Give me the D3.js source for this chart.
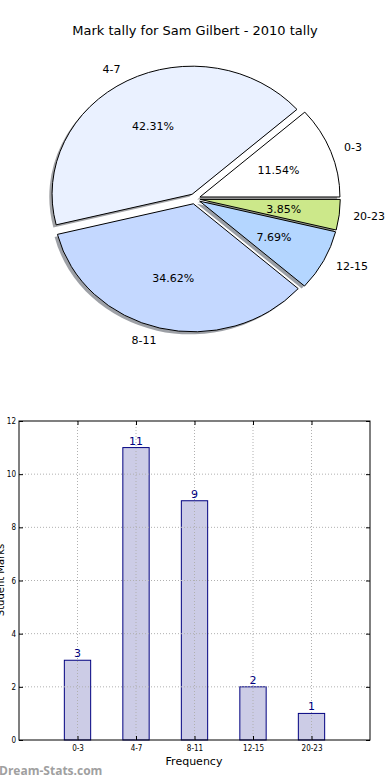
<!DOCTYPE html>
<html lang="en">
<head>
<meta charset="utf-8">
<script src="https://d3js.org/d3.v7.min.js"></script>
<style>
  body { margin: 0; background: #fff; font-family: "DejaVu Sans", sans-serif; }
  svg { display: block; }
  .grid line { stroke: #b0b0b0; stroke-dasharray: 1,2; stroke-width: 1; }
</style>
</head>
<body>
<script>
// data
var categories = ["0-3", "4-7", "8-11", "12-15", "20-23"];
var tally = [3, 11, 9, 2, 1];
var pieColors = ["#ffffff", "#eaf1ff", "#c4d8ff", "#b4d6ff", "#cce88a"];
var yTicks = [0, 2, 4, 6, 8, 10, 12];

var W = 390, H = 780;
var svg = d3.select("body").append("svg").attr("width", W).attr("height", H);

svg.append("text")
  .attr("x", 195).attr("y", 35)
  .attr("text-anchor", "middle")
  .style("font-size", "13px")
  .text("Mark tally for Sam Gilbert - 2010 tally");

// ---- PIE ----
var cx = 194.7, cy = 198.8, rx = 140, ry = 128, explode = 0.04;
var total = d3.sum(tally);

// counterclockwise from 3 o'clock, like matplotlib
var pie = d3.pie().sort(null).startAngle(Math.PI / 2).endAngle(Math.PI / 2 - 2 * Math.PI);
var arcs = pie(tally);
var arc = d3.arc().innerRadius(0).outerRadius(1);

function offset(d, k) {
  var a = (d.startAngle + d.endAngle) / 2;
  return [Math.sin(a) * k, -Math.cos(a) * k];
}

var pieG = svg.append("g");

// shadows under everything
pieG.selectAll(".shadow").data(arcs).enter().append("path")
  .attr("class", "shadow")
  .attr("d", arc)
  .attr("transform", function(d) {
    var o = offset(d, explode);
    return "translate(" + (cx + o[0] * rx - 0.02 * rx) + "," + (cy + o[1] * ry + 0.02 * ry) + ") scale(" + rx + "," + ry + ")";
  })
  .style("fill", function(d, i) {
    var c = d3.rgb(pieColors[i]);
    return d3.rgb(c.r * 0.3, c.g * 0.3, c.b * 0.3);
  })
  .style("fill-opacity", 0.5);

pieG.selectAll(".wedge").data(arcs).enter().append("path")
  .attr("class", "wedge")
  .attr("d", arc)
  .attr("transform", function(d) {
    var o = offset(d, explode);
    return "translate(" + (cx + o[0] * rx) + "," + (cy + o[1] * ry) + ") scale(" + rx + "," + ry + ")";
  })
  .style("fill", function(d, i) { return pieColors[i]; })
  .style("stroke", "#000")
  .style("stroke-width", 1)
  .attr("vector-effect", "non-scaling-stroke");

// outer labels
pieG.selectAll(".lbl").data(arcs).enter().append("text")
  .attr("class", "lbl")
  .each(function(d, i) {
    var o = offset(d, explode), p = offset(d, 1.1);
    var x = cx + (o[0] + p[0]) * rx, y = cy + (o[1] + p[1]) * ry;
    d3.select(this).attr("x", x).attr("y", y)
      .attr("text-anchor", p[0] > 0 ? "start" : "end");
  })
  .attr("dy", "0.35em")
  .style("font-size", "11px")
  .text(function(d, i) { return categories[i]; });

// percent labels
pieG.selectAll(".pct").data(arcs).enter().append("text")
  .attr("class", "pct")
  .each(function(d) {
    var o = offset(d, explode), p = offset(d, 0.6);
    d3.select(this).attr("x", cx + (o[0] + p[0]) * rx).attr("y", cy + (o[1] + p[1]) * ry);
  })
  .attr("dy", "0.35em")
  .attr("text-anchor", "middle")
  .style("font-size", "11px")
  .text(function(d) { return (d.value / total * 100).toFixed(2) + "%"; });

// ---- BAR ----
var bLeft = 19, bRight = 370, bTop = 421, bBottom = 740;
var x = d3.scaleLinear().domain([-1, categories.length]).range([bLeft, bRight]);
var y = d3.scaleLinear().domain([0, 12]).range([bBottom, bTop]);
var barW = 0.45;

var barG = svg.append("g");

barG.selectAll(".bar").data(tally).enter().append("rect")
  .attr("class", "bar")
  .attr("x", function(d, i) { return x(i - barW / 2); })
  .attr("width", x(barW) - x(0))
  .attr("y", function(d) { return y(d); })
  .attr("height", function(d) { return bBottom - y(d); })
  .style("fill", "#000080").style("fill-opacity", 0.2)
  .style("stroke", "#000080").style("stroke-width", 1);

var grid = barG.append("g").attr("class", "grid");
grid.selectAll(".gx").data(categories).enter().append("line")
  .attr("x1", function(d, i) { return x(i); }).attr("x2", function(d, i) { return x(i); })
  .attr("y1", bTop).attr("y2", bBottom);
grid.selectAll(".gy").data(yTicks.slice(1, -1)).enter().append("line")
  .attr("x1", bLeft).attr("x2", bRight)
  .attr("y1", function(d) { return y(d); }).attr("y2", function(d) { return y(d); });

barG.selectAll(".val").data(tally).enter().append("text")
  .attr("x", function(d, i) { return x(i); })
  .attr("y", function(d) { return y(d) - 3; })
  .attr("text-anchor", "middle")
  .style("font-size", "11px")
  .style("fill", "#000080")
  .text(function(d) { return d; });

// axes
var yAxis = d3.axisLeft(y).tickValues(yTicks).tickSize(-4).tickPadding(3);
barG.append("g").attr("transform", "translate(" + bLeft + ",0)").call(yAxis);
var yAxisR = d3.axisRight(y).tickValues(yTicks).tickSize(-4).tickFormat("");
barG.append("g").attr("transform", "translate(" + bRight + ",0)").call(yAxisR);

var xAxis = d3.axisBottom(x).tickValues(d3.range(categories.length))
  .tickFormat(function(i) { return categories[i]; }).tickSize(-4).tickPadding(5);
barG.append("g").attr("transform", "translate(0," + bBottom + ")").call(xAxis);
var xAxisT = d3.axisTop(x).tickValues(d3.range(categories.length)).tickSize(-4).tickFormat("");
barG.append("g").attr("transform", "translate(0," + bTop + ")").call(xAxisT);

barG.selectAll(".domain").remove();
barG.selectAll(".tick text").style("font-size", "8px").style("font-family", "DejaVu Sans Condensed, DejaVu Sans, sans-serif").attr("fill", "#000");
barG.selectAll(".tick line").attr("stroke", "#000");

barG.append("rect")
  .attr("x", bLeft).attr("y", bTop).attr("width", bRight - bLeft).attr("height", bBottom - bTop)
  .style("fill", "none").style("stroke", "#000").style("stroke-width", 1);

barG.append("text")
  .attr("x", 194).attr("y", 765)
  .attr("text-anchor", "middle")
  .style("font-size", "11px")
  .text("Frequency");

barG.append("text")
  .attr("transform", "translate(4,580) rotate(-90)")
  .attr("text-anchor", "middle")
  .style("font-size", "10px")
  .text("Student Marks");

svg.append("text")
  .attr("x", -1).attr("y", 775)
  .style("font-size", "12px")
  .style("font-weight", "bold")
  .style("font-family", "Open Sans, DejaVu Sans, sans-serif")
  .style("fill", "#a0a0a0")
  .text("Dream-Stats.com");
</script>
</body>
</html>
